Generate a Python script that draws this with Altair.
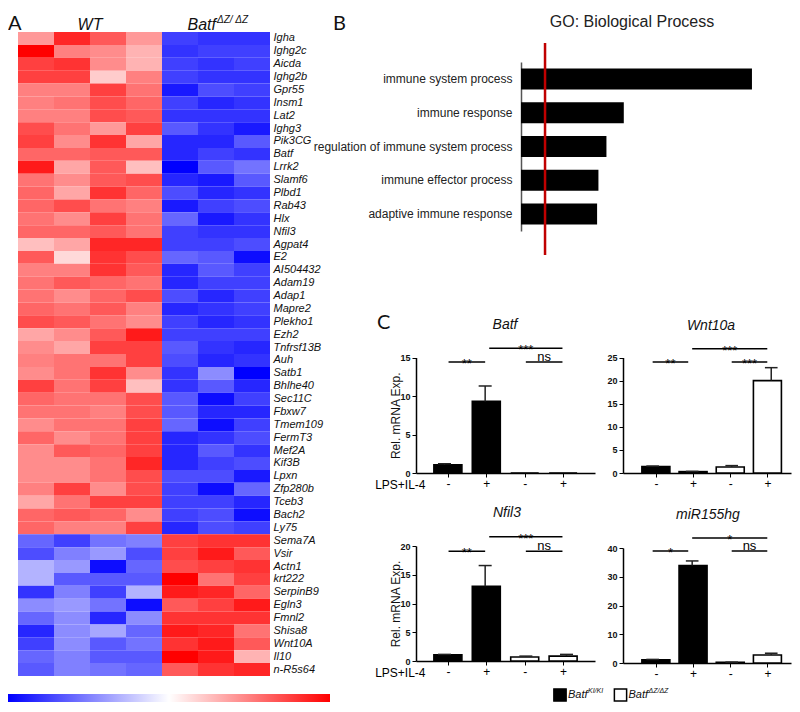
import altair as alt
import pandas as pd

W, H = 784, 696

# ---------------- Panel A: heatmap data ----------------
genes = ["Igha", "Ighg2c", "Aicda", "Ighg2b", "Gpr55", "Insm1", "Lat2", "Ighg3", "Pik3CG", "Batf",
         "Lrrk2", "Slamf6", "Plbd1", "Rab43", "Hlx", "Nfil3", "Agpat4", "E2", "AI504432", "Adam19",
         "Adap1", "Mapre2", "Plekho1", "Ezh2", "Tnfrsf13B", "Auh", "Satb1", "Bhlhe40", "Sec11C", "Fbxw7",
         "Tmem109", "FermT3", "Mef2A", "Kif3B", "Lpxn", "Zfp280b", "Tceb3", "Bach2", "Ly75",
         "Sema7A", "Vsir", "Actn1", "krt222", "SerpinB9", "Egln3", "Fmnl2", "Shisa8", "Wnt10A", "Il10", "n-R5s64"]

wt_1 = [0.8, 2.0, 1.5, 1.5, 1.0, 1.0, 1.0, 1.4, 1.5, 1.2,
        1.8, 1.1, 1.2, 1.2, 1.1, 1.2, 0.5, 1.3, 1.0, 1.1,
        1.1, 1.2, 1.4, 0.7, 0.9, 1.0, 0.9, 1.5, 1.2, 1.1,
        0.9, 1.2, 0.9, 0.9, 0.9, 1.0, 0.7, 1.2, 1.2,
        -1.2, -1.4, -0.6, -0.6, -1.6, -0.9, -1.2, -1.7, -1.5, -1.2, -1.3]
wt_2 = [1.7, 1.0, 1.6, 1.5, 1.0, 1.1, 1.0, 1.1, 0.9, 1.2,
        0.7, 0.9, 0.7, 1.4, 0.9, 1.2, 0.7, 0.3, 1.0, 1.3,
        0.9, 1.1, 1.3, 0.9, 0.7, 1.1, 1.1, 1.1, 1.1, 1.1,
        1.1, 0.9, 1.3, 0.9, 0.9, 1.5, 1.1, 1.3, 1.0,
        -1.5, -1.0, -0.8, -1.3, -1.0, -0.8, -0.9, -0.9, -0.9, -1.0, -1.0]
wt_3 = [1.3, 0.9, 0.9, 0.4, 1.5, 1.4, 1.4, 0.8, 1.6, 1.3,
        1.3, 1.3, 1.6, 1.1, 1.5, 1.3, 1.7, 1.6, 1.6, 1.2,
        1.2, 1.3, 1.1, 1.3, 1.5, 1.1, 1.6, 1.5, 1.1, 1.0,
        1.1, 1.1, 1.2, 1.1, 1.1, 0.9, 1.5, 1.2, 1.0,
        -1.1, -0.8, -1.9, -1.3, -1.5, -1.1, -1.7, -0.7, -1.3, -1.3, -1.1]
wt_4 = [0.8, 0.6, 0.6, 1.0, 1.1, 1.2, 1.3, 1.5, 0.7, 1.3,
        0.5, 1.4, 1.2, 1.0, 1.1, 1.1, 1.7, 1.4, 1.3, 1.1,
        1.4, 1.0, 0.9, 1.8, 1.5, 1.5, 0.9, 0.5, 1.4, 1.4,
        1.5, 1.5, 1.5, 1.7, 1.4, 1.4, 1.5, 0.9, 1.5,
        -1.0, -1.4, -1.2, -1.3, -0.6, -1.9, -0.9, -1.2, -1.1, -1.3, -1.2]
ko_1 = [-1.5, -1.6, -1.5, -1.5, -1.8, -1.5, -1.6, -1.3, -1.7, -1.7,
        -2.0, -1.7, -1.4, -1.8, -1.2, -1.5, -1.5, -1.2, -1.7, -1.7,
        -1.4, -1.7, -1.5, -1.5, -1.3, -1.4, -1.6, -1.6, -1.3, -1.3,
        -1.2, -1.7, -1.7, -1.7, -1.4, -1.5, -1.5, -1.5, -1.7,
        1.5, 1.5, 1.4, 2.0, 1.8, 1.3, 1.6, 1.8, 1.6, 2.0, 1.3]
ko_2 = [-1.6, -1.5, -1.6, -1.6, -1.4, -1.7, -1.6, -1.6, -1.7, -1.5,
        -1.3, -1.8, -1.7, -1.5, -1.8, -1.6, -1.5, -1.3, -1.3, -1.5,
        -1.7, -1.6, -1.7, -1.5, -1.6, -1.7, -0.9, -1.3, -1.9, -1.7,
        -1.9, -1.6, -1.3, -1.5, -1.4, -1.9, -1.5, -1.4, -1.4,
        1.6, 1.8, 1.5, 1.1, 1.7, 1.5, 1.6, 1.7, 1.8, 1.8, 1.6]
ko_3 = [-1.6, -1.5, -1.5, -1.6, -1.5, -1.6, -1.6, -1.8, -1.3, -1.6,
        -1.1, -1.3, -1.6, -1.4, -1.6, -1.6, -1.4, -1.9, -1.5, -1.5,
        -1.5, -1.5, -1.6, -1.5, -1.7, -1.6, -2.0, -1.7, -1.5, -1.7,
        -1.5, -1.4, -1.6, -1.4, -1.8, -1.2, -1.7, -1.9, -1.5,
        1.6, 1.3, 1.6, 1.5, 1.2, 1.8, 1.6, 1.1, 1.3, 0.6, 1.7]

group_labels = ["WT", "Batf"]
group_centers = [2.0, 5.5]

# ---------------- Panel B data ----------------
go_terms = ["immune system process", "immune response", "regulation of immune system process",
            "immune effector process", "adaptive immune response"]
go_values = [17.3, 7.7, 6.4, 5.8, 5.7]
go_threshold = [1.8]

# ---------------- Panel C data ----------------
samples = [1, 2, 3, 4]
genotype = ["KI", "KI", "DZ", "DZ"]

batf_mean = [1.08, 9.3, 0.0, 0.0]
batf_err = [0.12, 2.0, 0.0, 0.0]
wnt_mean = [1.4, 0.3, 1.3, 20.0]
wnt_err = [0.1, 0.05, 0.3, 2.8]
nfil_mean = [1.1, 13.0, 0.7, 0.85]
nfil_err = [0.05, 3.6, 0.15, 0.3]
mir_mean = [1.15, 33.9, 0.25, 2.8]
mir_err = [0.1, 1.6, 0.05, 0.6]

batf_br = {"x1": [1.1, 2.1, 3.0], "x2": [2.0, 3.9, 3.9], "y": [14.4, 16.2, 14.4], "label": ["**", "***", "ns"]}
wnt_br = {"x1": [1.0, 2.0, 3.0], "x2": [1.9, 3.9, 3.9], "y": [24.0, 26.9, 24.0], "label": ["**", "***", "***"]}
nfil_br = {"x1": [1.1, 2.1, 3.0], "x2": [2.0, 3.9, 3.9], "y": [19.1, 21.6, 19.1], "label": ["**", "***", "ns"]}
mir_br = {"x1": [1.0, 2.0, 3.0], "x2": [1.9, 3.9, 3.9], "y": [39.0, 43.5, 39.0], "label": ["*", "*", "ns"]}

legend_keys = ["KI", "DZ"]
legend_sup = ["KI/KI", "ΔZ/ΔZ"]

FONT = "Liberation Sans"

# ================= Panel A =================
rows = []
for ci, col in enumerate([wt_1, wt_2, wt_3, wt_4, ko_1, ko_2, ko_3]):
    for g, v in zip(genes, col):
        rows.append({"gene": g, "col": ci, "z": v})
heat_df = pd.DataFrame(rows)

heat_x = alt.Scale(domain=[0, 7], range=[10, 262], nice=False, zero=False)
heat_y = alt.Scale(domain=genes, range=[24, 668], paddingInner=0, paddingOuter=0)

cells = alt.Chart(heat_df).transform_calculate(col_end="datum.col + 1").mark_rect(strokeWidth=0).encode(
    x=alt.X("col:Q", scale=heat_x, axis=None),
    x2="col_end:Q",
    y=alt.Y("gene:N", scale=heat_y,
            axis=alt.Axis(orient="right", offset=262 - W, title=None, ticks=False, domain=False,
                          labelFontStyle="italic", labelFontSize=11, labelColor="#111",
                          labelPadding=3, labelLimit=200, labelFont=FONT)),
    color=alt.Color("z:Q",
                    scale=alt.Scale(domain=[-2, 0, 2], range=["#0000ff", "#ffffff", "#ff0000"],
                                    interpolate="rgb", clamp=True),
                    legend=alt.Legend(orient="none", legendX=0, legendY=686, direction="horizontal",
                                      gradientLength=322, gradientThickness=8, title=None,
                                      labelExpr="''", labelFontSize=1, gradientStrokeWidth=0)),
)

head_df = pd.DataFrame({"label": group_labels, "pos": group_centers})
head_wt = alt.Chart(head_df).transform_filter("datum.label == 'WT'").mark_text(
    fontSize=16, fontStyle="italic", align="center", baseline="alphabetic", color="#111", font=FONT
).encode(x=alt.X("pos:Q", scale=heat_x, axis=None), y=alt.value(22), text="label:N")
head_ko = alt.Chart(head_df).transform_filter("datum.label == 'Batf'").mark_text(
    fontSize=16, fontStyle="italic", align="right", baseline="alphabetic", color="#111", font=FONT
).encode(x=alt.X("pos:Q", scale=heat_x, axis=None), y=alt.value(22), text="label:N")
head_sup = alt.Chart(head_df).transform_filter("datum.label == 'Batf'").mark_text(
    fontSize=10, fontStyle="italic", align="left", baseline="alphabetic", dx=1, color="#111",
    font=FONT, text="ΔZ/ ΔZ"
).encode(x=alt.X("pos:Q", scale=heat_x, axis=None), y=alt.value(15))

panel_a = alt.layer(cells, head_wt, head_ko, head_sup)

# ================= Panel B =================
go_df = pd.DataFrame({"term": go_terms, "value": go_values})
thr_df = pd.DataFrame({"thr": go_threshold})
b_x = alt.Scale(domain=[0, 20], range=[513, 780], nice=False, zero=True)
b_y = alt.Scale(domain=go_terms, range=[54, 223], paddingInner=0.378, paddingOuter=0.19)

b_bars = alt.Chart(go_df).mark_bar(color="#000000").encode(
    x=alt.X("value:Q", scale=b_x,
            axis=alt.Axis(orient="bottom", offset=223 - H, values=[0, 5, 10, 15, 20], ticks=False,
                          labelFontSize=12, labelColor="#222", labelPadding=7, labelFlush=False,
                          domainColor="#555", domainWidth=1.5,
                          title="-Log(P-value)", titleFontSize=12, titleFontWeight="bold",
                          titleColor="#222", titlePadding=4)),
    y=alt.Y("term:N", scale=b_y,
            axis=alt.Axis(orient="left", offset=-513, ticks=False, title=None, labelFontSize=12,
                          labelColor="#222", labelPadding=9, labelLimit=300,
                          domainColor="#555", domainWidth=1.5)),
)
b_rule = alt.Chart(thr_df).mark_rule(color="#c00000", strokeWidth=2.5).encode(
    x=alt.X("thr:Q", scale=b_x, axis=None), y=alt.value(35), y2=alt.value(247)
)
panel_b = alt.layer(b_bars, b_rule)


# ================= Panel C =================
def c_panel(means, errs, brackets, ydom, yticks, xdom, xrng, yrng, left):
    df = pd.DataFrame({"pos": samples, "geno": genotype, "mean": means, "err": errs})
    br = pd.DataFrame(brackets)

    def xs():
        return alt.Scale(domain=xdom, range=xrng, nice=False, zero=False)

    def ys():
        return alt.Scale(domain=ydom, range=yrng, nice=False, zero=True)

    xkw = dict(orient="bottom", offset=yrng[0] - H, values=samples,
               labelExpr="datum.value % 2 == 1 ? '-' : '+'",
               domainColor="#000", domainWidth=1.5, labelFontSize=12,
               labelColor="#000", labelPadding=1, labelFlush=False,
               tickSize=4, tickColor="#000")
    ykw = dict(orient="left", offset=-xrng[0], values=yticks,
               domainColor="#000", domainWidth=1.5, labelFontSize=9,
               labelFontWeight="bold", labelColor="#111", labelPadding=2, labelFlush=False,
               tickSize=4, tickColor="#000")
    if left:
        xkw.update(title="LPS+IL-4", titleX=xrng[0] + 9, titleY=11, titleAlign="right",
                   titleBaseline="middle", titleFontSize=12, titleFontWeight="normal", titleColor="#000")
        ykw.update(title="Rel. mRNA Exp.", titleX=-21, titleY=(yrng[0] + yrng[1]) / 2,
                   titleAlign="center", titleBaseline="middle", titleFontSize=12,
                   titleFontWeight="normal", titleColor="#111")
    else:
        xkw.update(title=None)
        ykw.update(title=None)

    bars = alt.Chart(df).mark_bar(size=28, stroke="#000", strokeWidth=1.6).encode(
        x=alt.X("pos:Q", scale=xs(), axis=alt.Axis(**xkw)),
        y=alt.Y("mean:Q", scale=ys(), axis=alt.Axis(**ykw)),
        fill=alt.Fill("geno:N", scale=alt.Scale(domain=["KI", "DZ"], range=["#000000", "#ffffff"]),
                      legend=None),
    )
    stem = alt.Chart(df).transform_filter("datum.err > 0").transform_calculate(
        top="datum.mean + datum.err"
    ).mark_rule(color="#222", strokeWidth=1.5).encode(
        x=alt.X("pos:Q", scale=xs(), axis=None),
        y=alt.Y("mean:Q", scale=ys(), axis=None),
        y2="top:Q",
    )
    cap = alt.Chart(df).transform_filter("datum.err > 0").transform_calculate(
        top="datum.mean + datum.err", c0="datum.pos - 0.16", c1="datum.pos + 0.16"
    ).mark_rule(color="#222", strokeWidth=1.5).encode(
        x=alt.X("c0:Q", scale=xs(), axis=None),
        x2="c1:Q",
        y=alt.Y("top:Q", scale=ys(), axis=None),
    )
    br_rule = alt.Chart(br).mark_rule(color="#000", strokeWidth=1.5).encode(
        x=alt.X("x1:Q", scale=xs(), axis=None), x2="x2:Q", y=alt.Y("y:Q", scale=ys(), axis=None)
    )
    br_star = alt.Chart(br).transform_filter("datum.label != 'ns'").transform_calculate(
        mid="(datum.x1 + datum.x2) / 2"
    ).mark_text(fontSize=13, dy=6, baseline="alphabetic", color="#000", font=FONT).encode(
        x=alt.X("mid:Q", scale=xs(), axis=None), y=alt.Y("y:Q", scale=ys(), axis=None), text="label:N"
    )
    br_ns = alt.Chart(br).transform_filter("datum.label == 'ns'").transform_calculate(
        mid="(datum.x1 + datum.x2) / 2"
    ).mark_text(fontSize=13, dy=-1, baseline="alphabetic", color="#000", font=FONT).encode(
        x=alt.X("mid:Q", scale=xs(), axis=None), y=alt.Y("y:Q", scale=ys(), axis=None), text="label:N"
    )
    return [bars, stem, cap, br_rule, br_star, br_ns]


c1 = c_panel(batf_mean, batf_err, batf_br, [0, 15], [0, 5, 10, 15], [0.3, 4.7], [408, 587], [465, 349.5], True)
c2 = c_panel(wnt_mean, wnt_err, wnt_br, [0, 25], [0, 5, 10, 15, 20, 25], [0.25, 4.5], [615, 783], [465, 349.5], False)
c3 = c_panel(nfil_mean, nfil_err, nfil_br, [0, 20], [0, 5, 10, 15, 20], [0.3, 4.7], [408, 587], [653, 538], True)
c4 = c_panel(mir_mean, mir_err, mir_br, [0, 40], [0, 10, 20, 30, 40], [0.25, 4.5], [615, 783], [655, 540], False)

# legend for panel C
leg_df = pd.DataFrame({"key": legend_keys, "sup": legend_sup, "slot": [0, 1]})
leg_x = alt.Scale(domain=[0, 1], range=[552, 612.5])
leg_sq = alt.Chart(leg_df).mark_square(size=150, stroke="#000", strokeWidth=1.5, opacity=1).encode(
    x=alt.X("slot:Q", scale=leg_x, axis=None), y=alt.value(687),
    fill=alt.Fill("key:N", scale=alt.Scale(domain=["KI", "DZ"], range=["#000000", "#ffffff"]), legend=None),
)
leg_txt = alt.Chart(leg_df).mark_text(
    text="Batf", fontSize=11, fontStyle="italic", align="left", baseline="middle", dx=8, color="#111", font=FONT
).encode(x=alt.X("slot:Q", scale=leg_x, axis=None), y=alt.value(687))
leg_sup = alt.Chart(leg_df).mark_text(
    fontSize=7, fontStyle="italic", align="left", baseline="middle", dx=28, dy=-4, color="#111", font=FONT
).encode(x=alt.X("slot:Q", scale=leg_x, axis=None), y=alt.value(687), text="sup:N")
legend_c = alt.layer(leg_sq, leg_txt, leg_sup)

# ---------------- text annotations ----------------
one = pd.DataFrame({"k": [0]})


def note(text, x, y, **kw):
    return alt.Chart(one).mark_text(text=text, **kw).encode(x=alt.value(x), y=alt.value(y))


letter = dict(font="Lato", fontSize=20, align="left", baseline="alphabetic", color="#111")
notes = [
    note("A", 0, 22, **letter),
    note("B", 325, 22, **letter),
    note("C", 369, 321, **letter),
    note("GO: Biological Process", 624, 14, font=FONT, fontSize=16, align="center", baseline="middle", color="#222"),
    note("Batf", 497, 317, font=FONT, fontSize=14, fontStyle="italic", align="center", baseline="middle", color="#111"),
    note("Wnt10a", 703, 318, font=FONT, fontSize=14, fontStyle="italic", align="center", baseline="middle", color="#111"),
    note("Nfil3", 499, 505, font=FONT, fontSize=14, fontStyle="italic", align="center", baseline="middle", color="#111"),
    note("miR155hg", 700, 507, font=FONT, fontSize=14, fontStyle="italic", align="center", baseline="middle", color="#111"),
]

chart = alt.layer(panel_a, panel_b, *c1, *c2, *c3, *c4, legend_c, *notes).resolve_scale(
    x="independent", y="independent", color="independent", fill="independent"
).properties(
    width=W, height=H, padding=0, autosize=alt.AutoSizeParams(type="none")
).configure_view(stroke=None).configure_axis(grid=False, labelFont=FONT, titleFont=FONT)

chart.save("out.html", embed_options={"renderer": "svg", "actions": False})
